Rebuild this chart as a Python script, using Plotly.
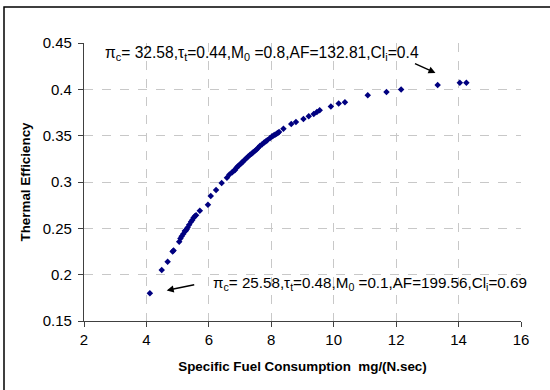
import plotly.graph_objects as go

# Data
sfc = [4.11, 4.49, 4.68, 4.84, 4.87, 5.05, 5.09, 5.13, 5.18, 5.23, 5.26, 5.29, 5.32, 5.37,
       5.43, 5.47, 5.51, 5.55, 5.59, 5.71, 5.97, 6.06, 6.23, 6.41, 6.58, 6.66, 6.75, 6.79,
       6.84, 6.88, 6.92, 6.97, 7.02, 7.06, 7.10, 7.15, 7.21, 7.26, 7.32, 7.37, 7.42, 7.47,
       7.53, 7.58, 7.64, 7.70, 7.77, 7.82, 7.87, 7.96, 8.02, 8.07, 8.12, 8.17, 8.21, 8.25,
       8.39, 8.64, 8.79, 9.03, 9.20, 9.36, 9.46, 9.55, 9.91, 10.16, 10.36, 11.09, 11.69,
       12.16, 13.33, 14.04, 14.25]
eff = [0.180, 0.205, 0.214, 0.225, 0.226, 0.2355, 0.239, 0.2415, 0.244, 0.247, 0.2475, 0.249,
       0.251, 0.254, 0.257, 0.259, 0.2615, 0.263, 0.264, 0.269, 0.2755, 0.285, 0.2915, 0.299,
       0.3045, 0.308, 0.3106, 0.312, 0.313, 0.315, 0.3167, 0.318, 0.3196, 0.321, 0.322, 0.324,
       0.3258, 0.3275, 0.3293, 0.3305, 0.332, 0.3335, 0.335, 0.337, 0.339, 0.3405, 0.3426,
       0.3438, 0.345, 0.3475, 0.349, 0.3502, 0.351, 0.352, 0.353, 0.354, 0.3575, 0.3627,
       0.3648, 0.368, 0.371, 0.3735, 0.3755, 0.3773, 0.3816, 0.3847, 0.386, 0.3935, 0.397,
       0.3997, 0.4047, 0.4072, 0.4072]

x_ticks = [2, 4, 6, 8, 10, 12, 14, 16]
y_ticks = [0.15, 0.2, 0.25, 0.3, 0.35, 0.4, 0.45]
y_tick_text = ["0.15", "0.2", "0.25", "0.3", "0.35", "0.4", "0.45"]

label_top = "π<sub>c</sub>= 32.58,τ<sub>t</sub>=0.44,M<sub>0</sub> =0.8,AF=132.81,Cl<sub>i</sub>=0.4"
label_bottom = "π<sub>c</sub>= 25.58,τ<sub>t</sub>=0.48,M<sub>0</sub> =0.1,AF=199.56,Cl<sub>i</sub>=0.69"

FONT = "Arial, Liberation Sans, sans-serif"

fig = go.Figure()
fig.add_trace(go.Scatter(
    x=sfc, y=eff, mode="markers",
    marker=dict(symbol="diamond", size=5, color="#000080", line=dict(width=0)),
    showlegend=False,
))

axis_common = dict(
    showline=True, linecolor="#404040", linewidth=1.3,
    ticks="outside", ticklen=5, tickcolor="#404040", tickwidth=1.3,
    showgrid=True, gridcolor="#c8c8c8", griddash="dash", gridwidth=1,
    zeroline=False,
    tickfont=dict(family=FONT, size=15, color="#000000"),
)

fig.update_xaxes(
    range=[2, 16], tickvals=x_ticks,
    title=dict(text="Specific Fuel Consumption  mg/(N.sec)",
               font=dict(family=FONT, size=13.4, color="#000000", weight="bold"),
               standoff=14),
    **axis_common,
)
fig.update_yaxes(
    range=[0.15, 0.45], tickvals=y_ticks, ticktext=y_tick_text,
    ticklabelstandoff=3,
    title=dict(text="Thermal Efficiency",
               font=dict(family=FONT, size=13.4, color="#000000", weight="bold"),
               standoff=8),
    **axis_common,
)

annotations = [
    dict(x=2.60, y=0.4386, xref="x", yref="y", text=label_top, showarrow=False,
         xanchor="left", yanchor="middle", font=dict(family=FONT, size=15.6, color="#000000")),
    dict(x=6.06, y=0.1908, xref="x", yref="y", text=label_bottom, showarrow=False,
         xanchor="left", yanchor="middle", font=dict(family=FONT, size=15.2, color="#000000")),
    dict(x=13.26, y=0.4177, xref="x", yref="y", ax=-22, ay=-10, text="", showarrow=True,
         arrowhead=2, arrowsize=1, arrowwidth=1.4, arrowcolor="#000000"),
    dict(x=4.65, y=0.183, xref="x", yref="y", ax=29, ay=-6, text="", showarrow=True,
         arrowhead=2, arrowsize=1, arrowwidth=1.4, arrowcolor="#000000"),
]

fig.update_layout(
    width=550, height=390,
    margin=dict(l=84, r=29, t=43, b=69),
    paper_bgcolor="#ffffff", plot_bgcolor="#ffffff",
    annotations=annotations,
    shapes=[dict(type="rect", xref="paper", yref="paper",
                 x0=-80/437, x1=1.2, y0=-0.5, y1=1 + 36/278,
                 line=dict(color="#000000", width=1.5), fillcolor="rgba(0,0,0,0)",
                 layer="below")],
)

fig.write_html("out.html")
